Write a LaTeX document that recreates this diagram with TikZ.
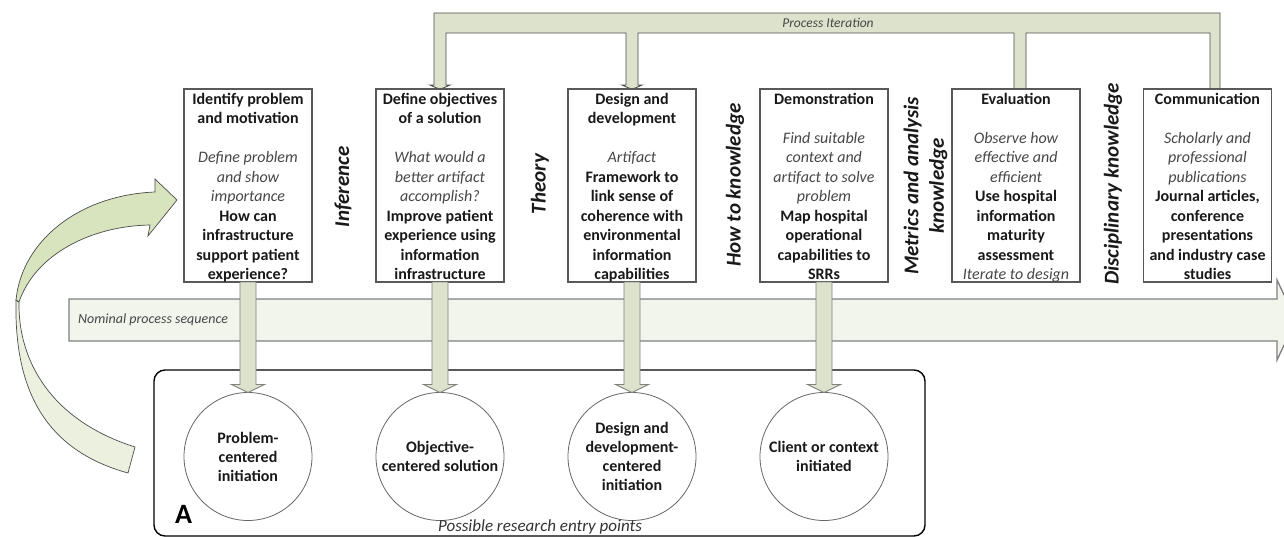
\documentclass[tikz,border=0pt]{standalone}
\usepackage{fontspec}
\setmainfont{Carlito}
\usetikzlibrary{calc}
\definecolor{combfill}{HTML}{DDE2CC}
\definecolor{bandfill}{HTML}{F2F5EB}
\definecolor{arrowdark}{HTML}{D7E4BD}
\definecolor{arrowlight}{HTML}{EBF1DE}
\newcommand\itl[1]{{\mdseries\itshape\color{black!72}#1}}
\newcommand\dstem[2]{\path[stem] let \p1=(#1.south), \p2=(#2.north) in
  (\x1-8pt,\y1) -- (\x1+8pt,\y1) -- (\x1+8pt,\y2+8pt) -- (\x1+16.5pt,\y2+8pt) -- (\x1,\y2)
  -- (\x1-16.5pt,\y2+8pt) -- (\x1-8pt,\y2+8pt) -- cycle;}
\begin{document}
\begin{tikzpicture}[x=1pt,y=-1pt,
  box/.style={draw=black!65, line width=1.1pt, fill=white, minimum width=128pt, minimum height=193pt, inner sep=0pt, outer sep=0pt},
  btext/.style={align=center, inner sep=0pt, font=\fontsize{16}{19.5}\selectfont\bfseries, text=black!90},
  lab/.style={font=\fontsize{21}{25.5}\selectfont\bfseries\itshape, rotate=90, inner sep=0pt, align=center, text=black!90},
  circ/.style={circle, draw=black!60, line width=0.8pt, fill=white, minimum size=128pt, inner sep=0pt, outer sep=0pt, align=center, font=\fontsize{16}{19}\selectfont\bfseries, text=black!90},
  stem/.style={fill=combfill, draw=black!50, line width=0.9pt},
  comb/.style={fill=combfill, draw=black!70, line width=0.9pt},
  band/.style={fill=bandfill, draw=black!50, line width=1.3pt},
  frame/.style={draw=black, line width=1.4pt, rounded corners=11pt},
  curv/.style={draw=black!70, line width=0.7pt}
]
\useasboundingbox (0,0) rectangle (1284,537);
\clip (0,0) rectangle (1284,537);

% curved entry arrow
\path[curv, fill=arrowlight] (16,300) .. controls (14,390) and (45,450) .. (128,473) -- (135,447)
  .. controls (50,420) and (18,360) .. (19,302) -- cycle;
\path[curv, fill=arrowdark] (16,300) .. controls (22,240) and (80,195) .. (155,192) -- (155,179) -- (177,200)
  -- (148,236) -- (150,225) .. controls (90,226) and (35,255) .. (19,302) -- cycle;

% nominal process band
\path[band] (69,299) -- (1277,299) -- (1277,280) -- (1296,320) -- (1277,360) -- (1277,341) -- (69,341) -- cycle;
\node[font=\fontsize{14}{16}\selectfont\itshape, anchor=west, inner sep=0pt, text=black!72] (nps) at (78,320) {Nominal process sequence};

% process iteration comb
\path[comb] (434,13) -- (1220,13) -- (1220,89) -- (1210,89) -- (1210,33) -- (1026,33) -- (1026,89) -- (1014,89)
  -- (1014,33) -- (638,33) -- (638,85) -- (642,85) -- (632,89.5) -- (622,85) -- (626,85) -- (626,33)
  -- (446,33) -- (446,85) -- (450,85) -- (440,89.5) -- (430,85) -- (434,85) -- cycle;
\node[font=\fontsize{13.5}{16}\selectfont\itshape, inner sep=0pt, text=black!72] (pit) at (828,23) {Process Iteration};

% entry-point frame
\draw[frame] (154,370) rectangle (925,536);

% boxes
\node[box] (b1) at (248,185.5) {};
\node[box] (b2) at (440,185.5) {};
\node[box] (b3) at (632,185.5) {};
\node[box] (b4) at (824,185.5) {};
\node[box] (b5) at (1016,185.5) {};
\node[box] (b6) at (1207.5,185.5) {};

\node[btext, anchor=north] (t1) at ($(b1.north)+(0,1.35)$) {\strut Identify problem\\and motivation\\[19.5pt]\itl{Define problem}\\\itl{and show}\\\itl{importance}\\How can\\infrastructure\\support patient\\experience?};
\node[btext, anchor=north] (t2) at ($(b2.north)+(0,1.35)$) {\strut Define objectives\\of a solution\\[19.5pt]\itl{What would a}\\\itl{better artifact}\\\itl{accomplish?}\\Improve patient\\experience using\\information\\infrastructure};
\node[btext, anchor=north] (t3) at ($(b3.north)+(0,1.35)$) {\strut Design and\\development\\[19.5pt]\itl{Artifact}\\Framework to\\link sense of\\coherence with\\environmental\\information\\capabilities};
\node[btext, anchor=north] (t4) at ($(b4.north)+(0,1.35)$) {\strut Demonstration\\[19.5pt]\itl{Find suitable}\\\itl{context and}\\\itl{artifact to solve}\\\itl{problem}\\Map hospital\\operational\\capabilities to\\SRRs};
\node[btext, anchor=north] (t5) at ($(b5.north)+(0,1.35)$) {\strut Evaluation\\[19.5pt]\itl{Observe how}\\\itl{effective and}\\\itl{efficient}\\Use hospital\\information\\maturity\\assessment\\\itl{Iterate to design}};
\node[btext, anchor=north] (t6) at ($(b6.north)+(0,1.35)$) {\strut Communication\\[19.5pt]\itl{Scholarly and}\\\itl{professional}\\\itl{publications}\\Journal articles,\\conference\\presentations\\and industry case\\studies};

% rotated knowledge labels
\node[lab] (l1) at (343,187) {Inference};
\node[lab] (l2) at (540,184) {Theory};
\node[lab] (l3) at (735,185) {How to knowledge};
\node[lab] (l4) at (925.5,186) {Metrics and analysis\\knowledge};
\node[lab] (l5) at (1113,184) {Disciplinary knowledge};

% entry circles
\node[circ] (c1) at (248,456.5) {Problem-\\centered\\initiation};
\node[circ] (c2) at (440,456.5) {Objective-\\centered solution};
\node[circ] (c3) at (632,456.5) {Design and\\development-\\centered\\initiation};
\node[circ] (c4) at (824,456.5) {Client or context\\initiated};

% down stems
\dstem{b1}{c1}
\dstem{b2}{c2}
\dstem{b3}{c3}
\dstem{b4}{c4}

\node[font=\fontsize{28}{30}\selectfont\bfseries, anchor=base west, inner sep=0pt] (alab) at (175,523) {A};
\node[font=\fontsize{17}{20}\selectfont\itshape, anchor=base, inner sep=0pt, text=black!80] (entry) at (540,531) {Possible research entry points};
\end{tikzpicture}
\end{document}
